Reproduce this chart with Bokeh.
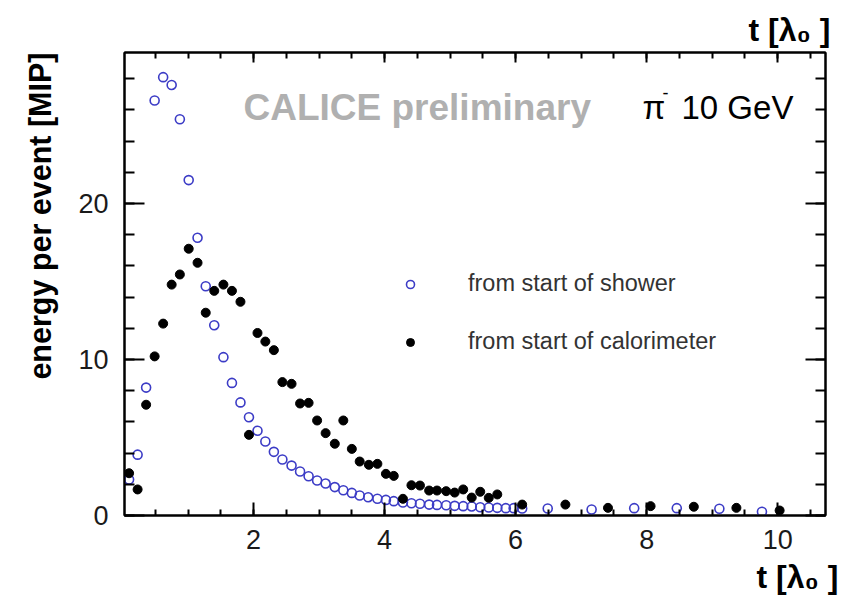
from bokeh.plotting import figure
from bokeh.models import (Range1d, FixedTicker, LinearAxis, Label, Legend, LegendItem, Title)
from bokeh.embed import file_html
from bokeh.resources import INLINE

# ---- data ----
t_shower = [0.10, 0.23, 0.36, 0.49, 0.62, 0.75, 0.875, 1.01, 1.145, 1.27, 1.40, 1.54,
            1.67, 1.80, 1.93, 2.06, 2.18, 2.31, 2.44, 2.58, 2.71, 2.84, 2.97, 3.10,
            3.24, 3.37, 3.50, 3.62, 3.75, 3.89, 4.02, 4.14, 4.28, 4.41, 4.54, 4.68,
            4.80, 4.94, 5.07, 5.20, 5.33, 5.46, 5.59, 5.72, 5.85, 5.97, 6.10, 6.49,
            7.16, 7.81, 8.46, 9.11, 9.76]
e_shower = [2.3, 3.9, 8.2, 26.6, 28.1, 27.6, 25.4, 21.5, 17.8, 14.7, 12.2, 10.15,
            8.5, 7.25, 6.3, 5.43, 4.74, 4.08, 3.59, 3.2, 2.82, 2.52, 2.24, 2.05,
            1.82, 1.62, 1.45, 1.28, 1.17, 1.07, 1.0, 0.92, 0.83, 0.79, 0.75, 0.70,
            0.68, 0.66, 0.62, 0.60, 0.58, 0.53, 0.51, 0.49, 0.47, 0.47, 0.45, 0.45,
            0.38, 0.47, 0.47, 0.43, 0.24]

t_calo = [0.10, 0.23, 0.36, 0.49, 0.62, 0.75, 0.875, 1.01, 1.145, 1.27, 1.40, 1.54,
          1.67, 1.80, 1.93, 2.06, 2.18, 2.31, 2.44, 2.58, 2.71, 2.84, 2.97, 3.10,
          3.24, 3.37, 3.50, 3.62, 3.76, 3.89, 4.02, 4.14, 4.28, 4.41, 4.54, 4.68,
          4.80, 4.94, 5.07, 5.20, 5.33, 5.46, 5.59, 5.72, 6.10, 6.76, 7.41, 8.06,
          8.72, 9.37, 10.03]
e_calo = [2.71, 1.67, 7.1, 10.2, 12.3, 14.8, 15.45, 17.1, 16.2, 13.0, 14.4, 14.8,
          14.4, 13.7, 5.17, 11.7, 11.15, 10.6, 8.55, 8.44, 7.18, 7.22, 6.09, 5.28,
          4.6, 6.09, 4.27, 3.46, 3.25, 3.31, 2.67, 2.54, 1.07, 1.94, 1.92, 1.6,
          1.6, 1.56, 1.47, 1.67, 1.15, 1.52, 1.13, 1.35, 0.7, 0.7, 0.49, 0.6,
          0.56, 0.49, 0.32]

x_major = [2, 4, 6, 8, 10]
x_minor = [0.5 * i for i in range(1, 22)]
y_major = [0, 10, 20]
y_minor = [2 * i for i in range(0, 15)]

label_shower = "from start of shower"
label_calo = "from start of calorimeter"
x_title = "t [λ₀ ]"
y_title = "energy per event [MIP]"

FONT = "Liberation Sans"
BLUE = "#3c3cc6"

p = figure(width=841, height=604, output_backend="svg", toolbar_location=None,
           x_range=Range1d(0.03, 10.73), y_range=Range1d(0, 29.68),
           min_border_left=124, min_border_right=16, min_border_top=52,
           min_border_bottom=89, x_axis_location=None, y_axis_location=None)
p.grid.visible = False
p.background_fill_color = "white"
p.border_fill_color = "white"
p.outline_line_color = "black"
p.outline_line_width = 2


def make_axis(ticker_major, ticker_minor, show_labels, maj_len, min_len, standoff):
    ax = LinearAxis(ticker=FixedTicker(ticks=ticker_major, minor_ticks=ticker_minor))
    ax.axis_line_color = "black"
    ax.axis_line_width = 2
    ax.major_tick_in = maj_len
    ax.major_tick_out = 0
    ax.minor_tick_in = min_len
    ax.minor_tick_out = 0
    ax.major_tick_line_width = 2
    ax.minor_tick_line_width = 2
    ax.major_tick_line_color = "black"
    ax.minor_tick_line_color = "black"
    ax.major_label_text_font = FONT
    if show_labels:
        ax.major_label_text_font_size = "27px"
        ax.major_label_text_color = "#1a1a1a"
        ax.major_label_standoff = standoff
    else:
        ax.major_label_text_font_size = "10px"
        ax.major_label_overrides = {t: "" for t in ticker_major}
        ax.major_label_standoff = 0
    return ax


p.add_layout(make_axis(x_major, x_minor, True, 13, 6, 14), "below")
p.add_layout(make_axis(x_major, x_minor, False, 10, 6, 0), "above")
p.add_layout(make_axis(y_major, y_minor, True, 20, 10, 16), "left")
p.add_layout(make_axis(y_major, y_minor, False, 20, 10, 0), "right")


def make_title(text, size, offset, standoff):
    return Title(text=text, align="right", offset=offset, standoff=standoff,
                 text_font=FONT, text_font_size=f"{size}px", text_font_style="bold",
                 text_color="black")


p.add_layout(make_title(x_title, 32, -5, 9), "above")
p.add_layout(make_title(x_title, 32, -13, 11), "below")
p.add_layout(make_title(y_title, 30.5, 0, 38), "left")

r_sh = p.scatter(t_shower, e_shower, marker="circle", size=9, fill_color=None,
                 line_color=BLUE, line_width=1.6)
r_ca = p.scatter(t_calo, e_calo, marker="circle", size=9, fill_color="black",
                 line_color="black", line_width=1)

legend = Legend(items=[LegendItem(label=label_shower, renderers=[r_sh]),
                       LegendItem(label=label_calo, renderers=[r_ca])],
                location=(276, 160), orientation="vertical")
legend.border_line_color = None
legend.background_fill_alpha = 0
legend.padding = 0
legend.margin = 0
legend.glyph_width = 20
legend.glyph_height = 20
legend.label_height = 20
legend.label_standoff = 48
legend.spacing = 31
legend.label_text_font = FONT
legend.label_text_font_size = "23.5px"
legend.label_text_color = "#333333"
p.add_layout(legend, "center")

# frame origin: canvas x=124, y=515 (screen units are relative to frame bottom-left)
FX, FY = 124, 515


def lab(text, px, py, size, bold=False, color="black", align="left"):
    p.add_layout(Label(x=px - FX, y=FY - py, x_units="screen", y_units="screen",
                       text=text, text_font=FONT, text_font_size=f"{size}px",
                       text_font_style="bold" if bold else "normal",
                       text_color=color, text_align=align,
                       text_baseline="alphabetic"))


lab("CALICE preliminary", 243, 107, 37, bold=True, color="#b0b0b0")
lab("π", 642, 107, 33)
lab("-", 662, 92, 18)
lab("10 GeV", 681, 107, 33)

open("out.html", "w").write(file_html(p, INLINE))
